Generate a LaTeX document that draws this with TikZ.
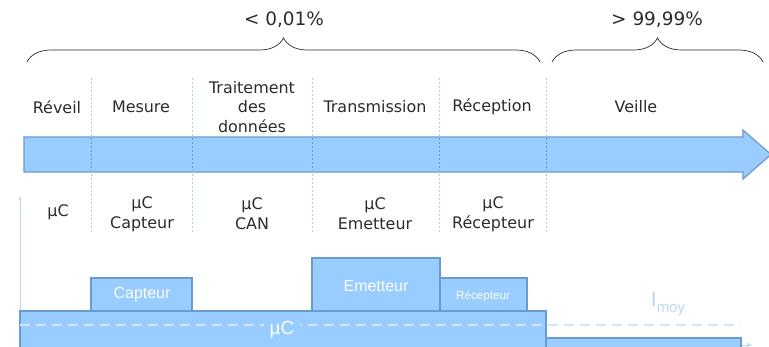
\documentclass[tikz,border=0pt]{standalone}
\usepackage{fontspec}
\setmainfont{DejaVu Sans}
\newfontfamily\arialfont{Liberation Sans}
\usetikzlibrary{decorations.pathreplacing, arrows.meta, positioning}
\definecolor{barblue}{HTML}{99CCFF}
\definecolor{barline}{HTML}{6A9BD0}
\definecolor{divblue}{HTML}{A9CFF2}
\definecolor{paleblue}{HTML}{D2E7FB}
\definecolor{axisblue}{HTML}{BBD9F6}
\definecolor{txtgray}{HTML}{2B2B2B}
\tikzset{
  phase/.style={
    text=txtgray, font=\fontsize{16}{20}\selectfont, align=center
  },
  pct/.style={
    text=txtgray, font=\fontsize{18.5}{22}\selectfont
  },
  accolade/.style={
    decorate, decoration={brace, amplitude=24bp}, draw=txtgray, line width=0.7bp
  },
  bar/.style={
    draw=barline, fill=barblue, line width=1.2bp
  },
  divider/.style={
    divblue, line width=0.8bp, dash pattern=on 2bp off 2bp
  },
  barlabel/.style={
    text=white, font=\arialfont\fontsize{16}{18}\selectfont, inner sep=1bp
  }
}

\begin{document}
\begin{tikzpicture}[x=1bp, y=-1bp]
\useasboundingbox (0,0) rectangle (769,346);

% axes du courant
\draw[axisblue, line width=1bp, -{Stealth[length=4bp]}] (20,346) -- (20,196);
\draw[axisblue, line width=1bp, -{Stealth[length=6bp]}] (20,345) -- (752,345);

% fleche du temps
\draw[bar] (24,137) -- (743,137) -- (743,130) -- (771,154.5) -- (743,179)
  -- (743,172) -- (24,172) -- cycle;

% separations des phases
\draw[divider] (91,78) -- (91,232);
\draw[divider] (192,78) -- (192,232);
\draw[divider] (312,78) -- (312,232);
\draw[divider] (439,78) -- (439,232);
\draw[divider] (546,78) -- (546,232);
\draw[divider, barline!80!gray] (91,138) -- (91,171);
\draw[divider, barline!80!gray] (192,138) -- (192,171);
\draw[divider, barline!80!gray] (312,138) -- (312,171);
\draw[divider, barline!80!gray] (439,138) -- (439,171);
\draw[divider, barline!80!gray] (546,138) -- (546,171);

% accolades
\draw[accolade] (27,62) -- (540,62);
\draw[accolade] (552,62) -- (763,62);
\node[pct] (actif) at (284,20) {< 0,01\%};
\node[pct] (repos) at (657,20) {> 99,99\%};

% phases
\node[phase] (reveil) at (57,107) {Réveil};
\node[phase] (mesure) at (141,107) {Mesure};
\node[phase] (traitement) at (252,107) {Traitement\\des\\données};
\node[phase] (transmission) at (375,107) {Transmission};
\node[phase] (reception) at (492,107) {Réception};
\node[phase] (veille) at (636,107) {Veille};

% composants actifs
\node[phase] (ucreveil) at (58,212) {µC};
\node[phase] (ucmesure) at (142,214) {µC\\Capteur};
\node[phase] (uctraitement) at (252,214) {µC\\CAN};
\node[phase] (uctransmission) at (375,214) {µC\\Emetteur};
\node[phase] (ucreception) at (493,214) {µC\\Récepteur};

% consommation
\draw[bar] (20,311) rectangle (546,352);
\draw[bar] (546,338) rectangle (741,352);
\draw[bar] (91,278) rectangle (192,311);
\draw[bar] (312,258) rectangle (440,311);
\draw[bar] (440,278) rectangle (527,311);
\draw[paleblue, line width=2bp, dash pattern=on 10bp off 6bp] (20,325) -- (741,325);

\node[barlabel] (capteur) at (142,295) {Capteur};
\node[barlabel] (emetteur) at (376,286) {Emetteur};
\node[barlabel, font=\arialfont\fontsize{11.7}{13}\selectfont] (recepteur) at (483,296) {Récepteur};
\node[barlabel, fill=barblue, inner xsep=6bp, font=\arialfont\fontsize{19}{20}\selectfont] (uc) at (282,330) {µC};
\node[text=axisblue, font=\arialfont\fontsize{21}{22}\selectfont] (imoy) at (668,304)
  {I\raisebox{-6bp}{\fontsize{15}{16}\selectfont moy}};
\end{tikzpicture}
\end{document}
